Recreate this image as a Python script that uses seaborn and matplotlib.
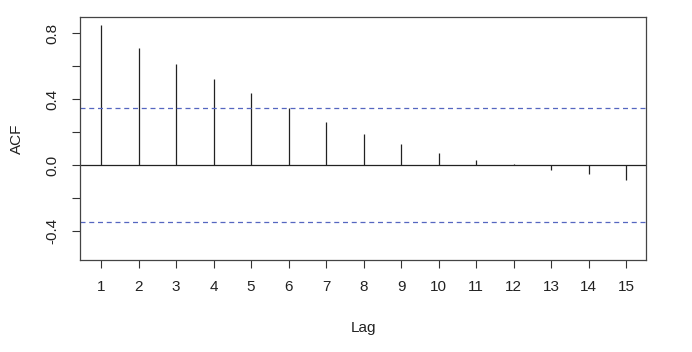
import numpy as np
import pandas as pd
import seaborn as sns
import matplotlib.pyplot as plt

# autocorrelation values
lags = list(range(1, 16))
acf = [0.848, 0.707, 0.610, 0.523, 0.434, 0.343, 0.262, 0.188, 0.127,
       0.071, 0.030, 0.003, -0.030, -0.055, -0.090]
conf = 0.343
y_ticks = [-0.4, -0.2, 0.0, 0.2, 0.4, 0.6, 0.8]
y_labels = ['-0.4', '', '0.0', '', '0.4', '', '0.8']

df = pd.DataFrame({'lag': lags, 'acf': acf})

sns.set_style('white')
plt.rcParams['font.family'] = ['Liberation Sans', 'DejaVu Sans']

fig = plt.figure(figsize=(6.92, 3.52), dpi=100)
ax = fig.add_axes([80 / 692, 92 / 352, 566 / 692, 243 / 352])

ax.vlines(df['lag'], 0, df['acf'], color='#222222', linewidth=0.9)
ax.axhline(0, color='#222222', linewidth=0.9)
ax.axhline(conf, color='#5566c0', linestyle=(0, (4, 3)), linewidth=0.9)
ax.axhline(-conf, color='#5566c0', linestyle=(0, (4, 3)), linewidth=0.9)

ax.set_xlim(0.44, 15.53)
ax.set_ylim(-0.576, 0.897)
ax.set_xticks(lags)
ax.set_xticklabels([str(l) for l in lags])
ax.set_yticks(y_ticks)
ax.set_yticklabels(y_labels, rotation=90, va='center')

ax.tick_params(axis='both', direction='out', length=5.5, width=0.8,
               color='#333333', labelsize=11, labelcolor='#222222', pad=9,
               left=True, bottom=True)
for s in ax.spines.values():
    s.set_color('#444444')
    s.set_linewidth(0.9)

ax.set_xlabel('Lag', fontsize=11, color='#222222', labelpad=19)
ax.set_ylabel('ACF', fontsize=11, color='#222222', labelpad=16)

fig.savefig('out.png', dpi=100)
